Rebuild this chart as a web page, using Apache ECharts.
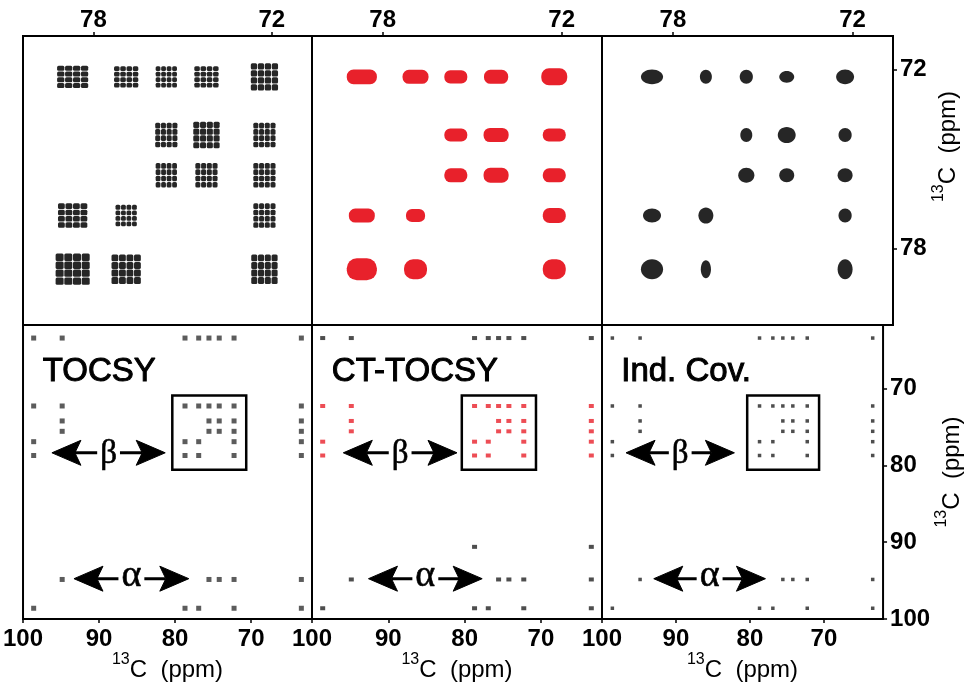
<!DOCTYPE html>
<html><head><meta charset="utf-8">
<script src="https://cdn.jsdelivr.net/npm/echarts@6/dist/echarts.min.js"></script>
<style>html,body{margin:0;padding:0;background:#fff}#c{width:965px;height:688px}</style>
</head><body><div id="c"></div>
<script>
// ---- chemical shifts (ppm) of the resolved carbons ----
const shiftKeys   = ['A', 'B', 'C', 'D', 'E', 'F', 'G', 'H'];
const shiftValues = [98.6, 94.85, 78.7, 76.9, 75.55, 74.2, 72.25, 63.4];

// ---- cross peaks in the zoomed region (x key + y key) ----
const insetPeaks = ['CG','DG','EG','FG','GG','EF','FF','GF','EE','FE','GE','CD','DD','GD','CC','DC','GC'];
// peak widths (ppm) [x, y] for each inset peak
const tocsyWidths = [[1.07,0.77],[0.84,0.74],[0.74,0.74],[0.84,0.74],[0.94,0.94],[0.77,0.84],[0.91,0.91],[0.77,0.84],
                     [0.74,0.84],[0.77,0.84],[0.77,0.84],[1.01,0.84],[0.74,0.74],[0.77,0.84],[1.17,1.07],[1.01,1.01],[0.91,1.01]];
const ctWidths    = [[1.01,0.50],[0.87,0.47],[0.77,0.44],[0.81,0.47],[0.87,0.57],[0.77,0.44],[0.84,0.47],[0.77,0.44],
                     [0.77,0.47],[0.84,0.50],[0.77,0.47],[0.87,0.47],[0.64,0.44],[0.77,0.50],[1.01,0.74],[0.77,0.67],[0.77,0.67]];
const indWidths   = [[0.74,0.50],[0.40,0.47],[0.44,0.47],[0.50,0.40],[0.60,0.50],[0.40,0.47],[0.60,0.54],[0.44,0.47],
                     [0.54,0.50],[0.50,0.47],[0.50,0.47],[0.60,0.47],[0.50,0.54],[0.44,0.47],[0.74,0.67],[0.34,0.60],[0.50,0.67]];

// ---- cross peaks in the full spectrum (x key + y key) ----
const fullPeaks = ['AA','CA','DA','GA','HA',
                   'BB','EB','FB','GB','HB',
                   'AC','CC','DC','GC','HC',
                   'AD','CD','DD','GD','HD',
                   'BE','EE','FE','GE','HE',
                   'BF','EF','FF','GF','HF',
                   'AG','BG','CG','DG','EG','FG','GG','HG',
                   'AH','BH','CH','DH','EH','FH','GH','HH'];
const ctArtifactCols = ['C', 'H'];
const ctArtifactRow = 90.6;

const panelTitles = ['TOCSY', 'CT-TOCSY', 'Ind. Cov.'];
const zoomX = [70.65, 80.37], zoomY = [70.88, 80.57];
const fullX = [62.0, 100],    fullY = [61.7, 100];
const zoomTicks = [78, 72];
const fullTicks = [100, 90, 80, 70];
const betaArrows  = [[96.2, 81.3], [95.9, 81.0], [96.75, 82.1]];
const betaRow = 78.35;
const alphaArrows = [[93.3, 78.2], [92.6, 77.7], [93.0, 77.9]];
const alphaRow = 94.75;
const titleAnchor = [97.4, 67.8];

// -------------------------------------------------------------
const S = {}; shiftKeys.forEach((k, i) => S[k] = shiftValues[i]);
const RED = '#e8212b', INK = '#262626';
const FONT = "'Liberation Sans', Arial, Helvetica, sans-serif";
const SERIF = "'Liberation Serif', 'DejaVu Serif', serif";

const lefts = [23, 312, 602], widths = [289, 290, 291];
const grids = [];
for (let i = 0; i < 3; i++) grids.push({left: lefts[i], top: 36, width: widths[i], height: 289, show: true, borderColor: '#000', borderWidth: 2, backgroundColor: 'transparent'});
for (let i = 0; i < 3; i++) grids.push({left: lefts[i], top: 325, width: widths[i], height: 294, show: true, borderColor: '#000', borderWidth: 2, backgroundColor: 'transparent'});

const nameRich = {
  sup: {fontSize: 16, fontFamily: FONT, color: '#000', verticalAlign: 'top'},
  m: {fontSize: 24, fontFamily: FONT, color: '#000', padding: [6, 0, 0, 0]}
};
const axisName = '{sup|13}{m|C  (ppm)}';
const tickLab = (vals, margin, show) => ({show: show, customValues: vals, fontSize: 24, fontWeight: 'bold', fontFamily: FONT, color: '#000', margin: margin});
const tick = (vals, show) => ({show: show, customValues: vals, length: 4, inside: false, lineStyle: {color: '#000', width: 1.5}});

const xAxes = [], yAxes = [];
for (let i = 0; i < 3; i++) {
  xAxes.push({type: 'value', gridIndex: i, position: 'top', min: zoomX[0], max: zoomX[1], inverse: true,
    axisLine: {show: false}, splitLine: {show: false}, axisTick: tick(zoomTicks, true), axisLabel: tickLab(zoomTicks, 4, true)});
  yAxes.push({type: 'value', gridIndex: i, position: 'right', min: zoomY[0], max: zoomY[1], inverse: true,
    axisLine: {show: false}, splitLine: {show: false}, axisTick: tick(zoomTicks, i === 2), axisLabel: tickLab(zoomTicks, 7, i === 2),
    name: i === 2 ? axisName : '', nameLocation: 'middle', nameGap: 26,
    nameTextStyle: {rich: nameRich, padding: [0, 0, 0, 68]}});
}
for (let i = 0; i < 3; i++) {
  xAxes.push({type: 'value', gridIndex: i + 3, position: 'bottom', min: fullX[0], max: fullX[1], inverse: true,
    axisLine: {show: false}, splitLine: {show: false}, axisTick: tick(fullTicks, true), axisLabel: tickLab(fullTicks, 8, true),
    name: axisName, nameLocation: 'middle', nameGap: 33, nameTextStyle: {rich: nameRich}});
  yAxes.push({type: 'value', gridIndex: i + 3, position: 'right', min: fullY[0], max: fullY[1], inverse: true,
    axisLine: {show: false}, splitLine: {show: false}, axisTick: tick(fullTicks, i === 2), axisLabel: tickLab(fullTicks, 7, i === 2),
    name: i === 2 ? axisName : '', nameLocation: 'middle', nameGap: 38, nameTextStyle: {rich: nameRich}});
}

function peakBox(api) {
  const c = api.coord([api.value(0), api.value(1)]);
  const s = api.size([api.value(2), api.value(3)]);
  return {cx: c[0], cy: c[1], w: Math.abs(s[0]), h: Math.abs(s[1])};
}
const renderers = [
  function (params, api) { // TOCSY multiplet clusters
    const b = peakBox(api), n = 4, cw = b.w / n, ch = b.h / n, kids = [];
    for (let i = 0; i < n; i++) for (let j = 0; j < n; j++) {
      kids.push({type: 'rect', shape: {x: b.cx - b.w / 2 + i * cw + 0.35, y: b.cy - b.h / 2 + j * ch + 0.35, width: cw - 0.7, height: ch - 0.7, r: 1.5}, style: {fill: INK}});
    }
    return {type: 'group', children: kids};
  },
  function (params, api) { // CT-TOCSY blobs
    const b = peakBox(api);
    return {type: 'rect', shape: {x: b.cx - b.w / 2, y: b.cy - b.h / 2, width: b.w, height: b.h, r: Math.min(b.h, b.w) / 2.2}, style: {fill: RED}};
  },
  function (params, api) { // covariance dots
    const b = peakBox(api);
    return {type: 'ellipse', shape: {cx: b.cx, cy: b.cy, rx: b.w / 2, ry: b.h / 2}, style: {fill: INK}};
  }
];
const widthSets = [tocsyWidths, ctWidths, indWidths];

function annRender(k) {
  return function (params, api) {
    const kids = [];
    const t = api.coord(titleAnchor);
    kids.push({type: 'text', style: {text: panelTitles[k], x: t[0], y: t[1], fontSize: 33, fontFamily: FONT, fill: '#000', stroke: '#000', lineWidth: 1, align: 'left', verticalAlign: 'middle'}});
    const p1 = api.coord([zoomX[1], zoomY[0]]), p2 = api.coord([zoomX[0], zoomY[1]]);
    kids.push({type: 'rect', shape: {x: p1[0], y: p1[1], width: p2[0] - p1[0], height: p2[1] - p1[1]}, style: {fill: 'none', stroke: '#000', lineWidth: 2.5}});
    function arrow(x1, x2, y, ch, fs, dy) {
      const a = api.coord([x1, y]), b = api.coord([x2, y]);
      const L = 29, H = 12.5, N = 6;
      kids.push({type: 'line', shape: {x1: a[0] + L - N, y1: a[1], x2: b[0] - L + N, y2: b[1]}, style: {stroke: '#000', lineWidth: 3}});
      kids.push({type: 'polygon', shape: {points: [[a[0], a[1]], [a[0] + L, a[1] - H], [a[0] + L - N, a[1]], [a[0] + L, a[1] + H]]}, style: {fill: '#000', stroke: '#000', lineWidth: 1, lineJoin: 'round'}});
      kids.push({type: 'polygon', shape: {points: [[b[0], b[1]], [b[0] - L, b[1] - H], [b[0] - L + N, b[1]], [b[0] - L, b[1] + H]]}, style: {fill: '#000', stroke: '#000', lineWidth: 1, lineJoin: 'round'}});
      kids.push({type: 'text', z2: 10, style: {text: ch, x: (a[0] + b[0]) / 2, y: a[1] + dy, fontSize: fs, fontFamily: SERIF, fill: '#000', stroke: '#000', lineWidth: 0.6, align: 'center', verticalAlign: 'middle', backgroundColor: '#fff', padding: [0, 3]}});
    }
    arrow(betaArrows[k][0], betaArrows[k][1], betaRow, 'β', 33, 2);
    arrow(alphaArrows[k][0], alphaArrows[k][1], alphaRow, 'α', 38, -3);
    return {type: 'group', children: kids};
  };
}

const series = [];
for (let k = 0; k < 3; k++) {
  series.push({type: 'custom', xAxisIndex: k, yAxisIndex: k, clip: true, renderItem: renderers[k],
    encode: {x: 0, y: 1},
    data: insetPeaks.map((p, j) => [S[p[0]], S[p[1]], widthSets[k][j][0], widthSets[k][j][1]])});
}
const fullData = fullPeaks.map(p => [S[p[0]], S[p[1]]]);
const ctData = fullData.concat(ctArtifactCols.map(c => [S[c], ctArtifactRow]));
series.push({type: 'scatter', xAxisIndex: 3, yAxisIndex: 3, symbol: 'rect', symbolSize: [5, 5], itemStyle: {color: '#333'}, data: fullData});
series.push({type: 'scatter', xAxisIndex: 4, yAxisIndex: 4, symbol: 'rect', symbolSize: [5, 4],
  itemStyle: {color: p => (p.value[1] > zoomY[0] && p.value[1] < zoomY[1]) ? RED : '#222'}, data: ctData});
series.push({type: 'scatter', xAxisIndex: 5, yAxisIndex: 5, symbol: 'rect', symbolSize: [3.5, 3.5], itemStyle: {color: '#222'}, data: fullData});
for (let k = 0; k < 3; k++) {
  series.push({type: 'custom', xAxisIndex: k + 3, yAxisIndex: k + 3, clip: false, renderItem: annRender(k), data: [[80, 80]], silent: true});
}

const chart = echarts.init(document.getElementById('c'));
chart.setOption({animation: false, backgroundColor: '#fff', grid: grids, xAxis: xAxes, yAxis: yAxes, series: series});
</script></body></html>
